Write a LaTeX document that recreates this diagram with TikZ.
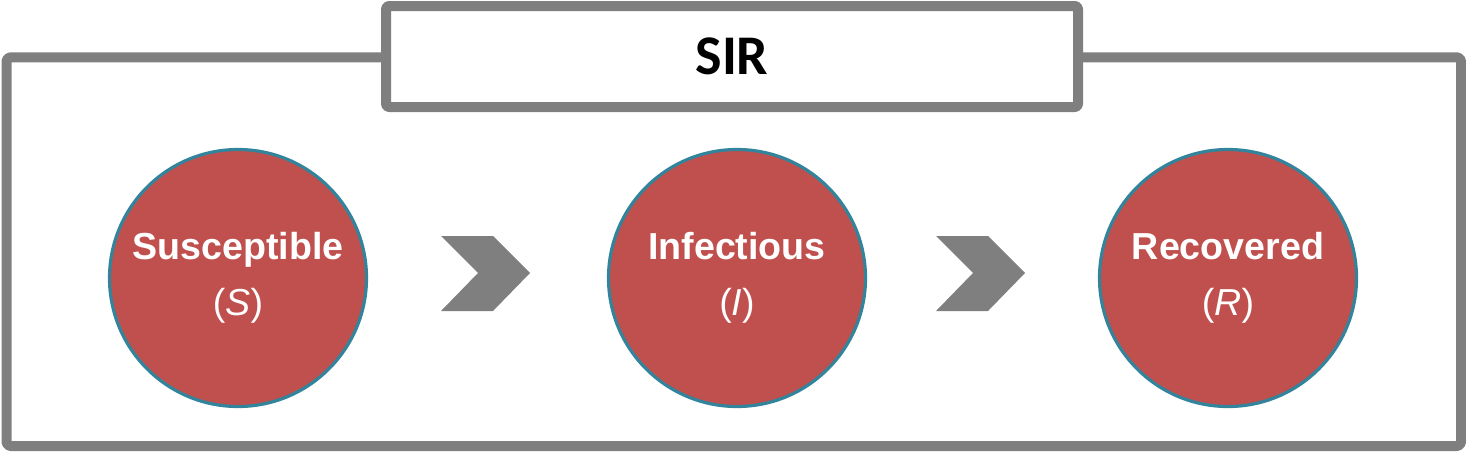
\documentclass[tikz,border=0pt]{standalone}
\usepackage{fontspec}
\setmainfont{Liberation Sans}
\newfontfamily\titlefont{Carlito}
\usetikzlibrary{calc, positioning}

\definecolor{framegray}{HTML}{7F7F7F}
\definecolor{statered}{HTML}{C0504D}
\definecolor{stateteal}{HTML}{31849B}

\tikzset{
  state/.style={circle, draw=stateteal, line width=1.6pt, fill=statered,
    minimum size=128.5pt, inner sep=0pt, text=white, align=center,
    font=\fontsize{18.8}{28}\selectfont},
  titlebox/.style={draw=framegray, line width=5pt, fill=white,
    rounded corners=1.5pt, minimum width=346pt, minimum height=50.5pt,
    font=\titlefont\bfseries\fontsize{28}{32}\selectfont},
  chevron/.pic={
    \fill[framegray] (-44.5,37) -- (7.5,37) -- (44.5,0) -- (7.5,-38)
      -- (-44.5,-38) -- (-7.5,0) -- cycle;
  }
}

\begin{document}
\begin{tikzpicture}[x=0.5pt, y=0.5pt, line join=round]
\useasboundingbox (0,0) rectangle (1466,452);

% Outer frame
\draw[framegray, line width=5pt, rounded corners=2pt] (6.5,6) rectangle (1461,394.7);

% Title
\node[titlebox] (title) at (732,395.5) {SIR};

% Compartments
\node[state] (S) at (238,174) {\textbf{Susceptible}\\(\textit{S})};
\node[state] (I) at (737,174) {\textbf{Infectious}\\(\textit{I})};
\node[state] (R) at (1228,174) {\textbf{Recovered}\\(\textit{R})};

% Transitions
\pic at ($(S)!0.5!(I)+(-2,5)$) {chevron};
\pic at ($(I)!0.5!(R)+(-2,5)$) {chevron};
\end{tikzpicture}
\end{document}
